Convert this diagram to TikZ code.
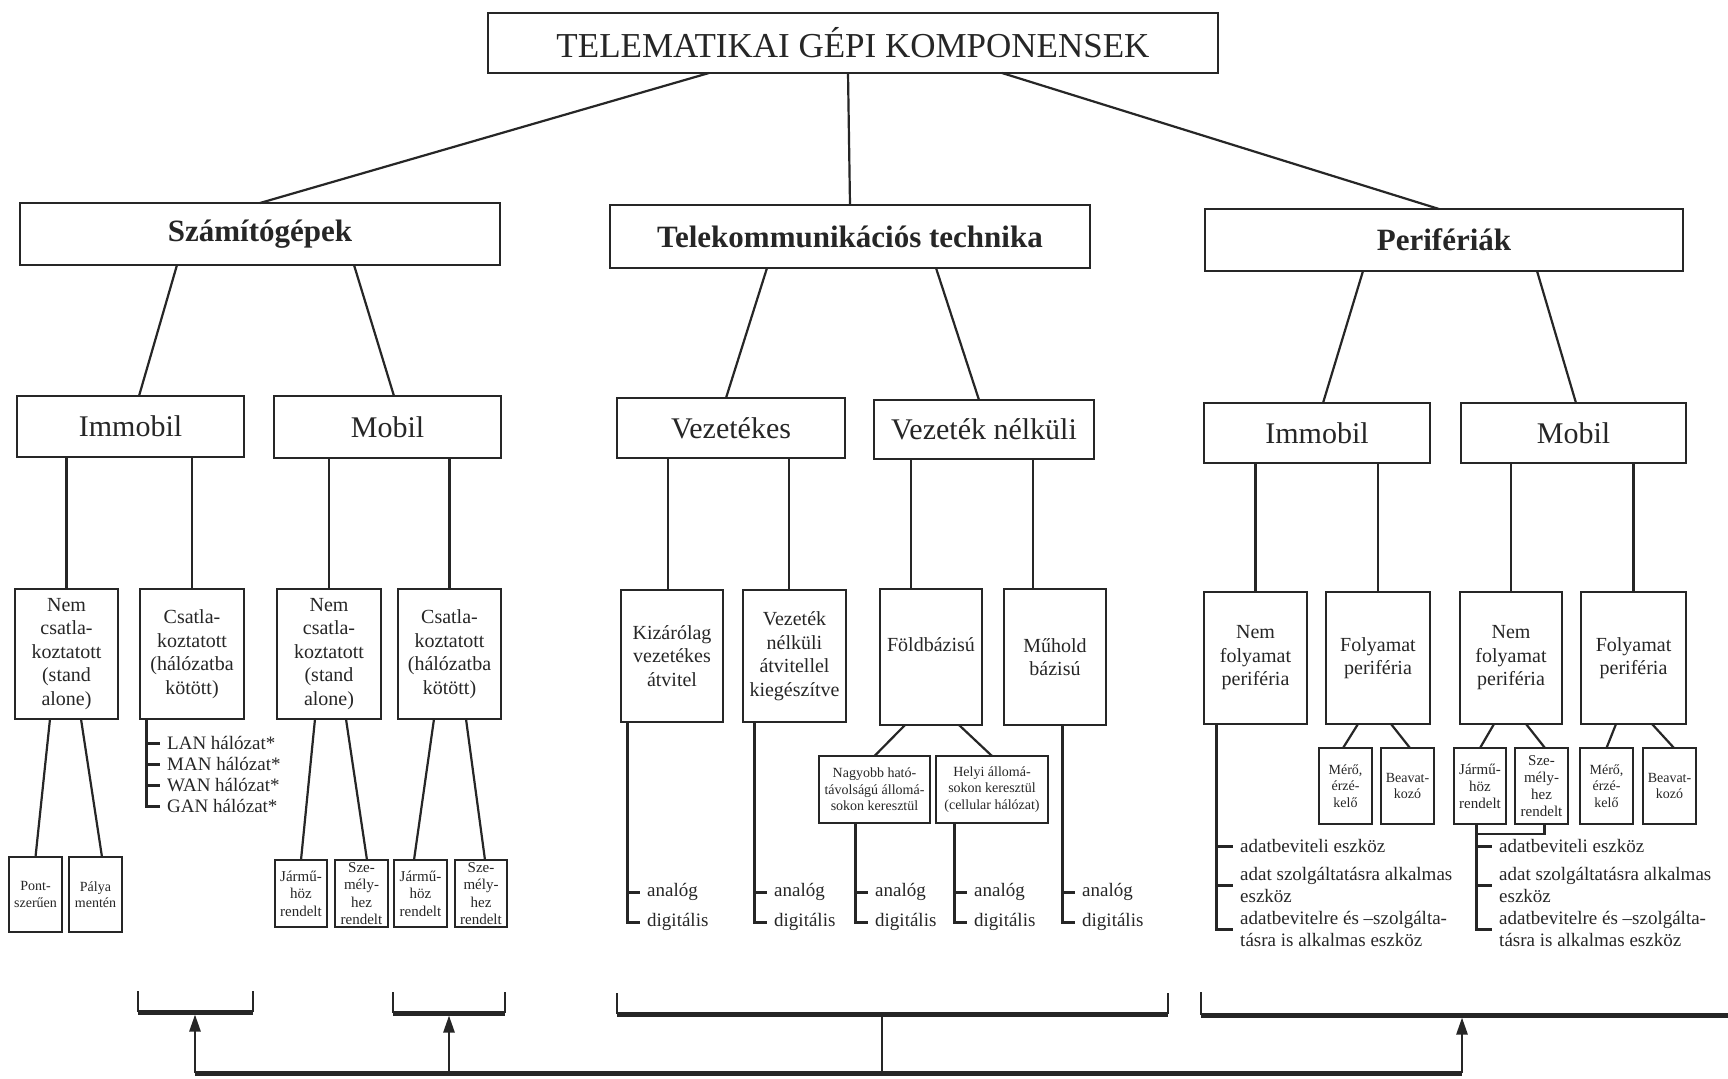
\documentclass[tikz,border=0pt]{standalone}
\usepackage{fontspec}
\setmainfont{Liberation Serif}
\usetikzlibrary{arrows.meta,positioning,calc}
\definecolor{ink}{HTML}{262626}
\tikzset{%
   box/.style={
      draw=ink,
      line width=1.8pt,
      inner sep=0pt,
      outer sep=0pt,
      align=center,
      text=ink
   },
   wh/.style 2 args={
      minimum width=#1pt,
      minimum height=#2pt
   },
   topbox/.style={
      box,
      font=\fontsize{35}{40}\selectfont
   },
   groupbox/.style={
      box,
      font=\bfseries\fontsize{31}{36}\selectfont
   },
   kindbox/.style={
      box,
      font=\fontsize{30}{34}\selectfont
   },
   leafbox/.style={
      box,
      font=\fontsize{20}{23.5}\selectfont
   },
   tinybox/.style={
      box,
      line width=1.5pt,
      font=\fontsize{14}{16.5}\selectfont
   },
   item/.style={
      anchor=west,
      inner xsep=7pt,
      inner ysep=0pt,
      align=left,
      text=ink,
      font=\fontsize{19}{21.5}\selectfont
   },
   link/.style={
      draw=ink,
      line width=2.2pt
   },
   rail/.style={
      draw=ink,
      line width=3pt
   },
   brace/.style={
      draw=ink,
      line width=2.5pt
   },
   shelf/.style={
      draw=ink,
      line width=5pt
   },
   lift/.style={
      draw=ink,
      line width=2.5pt,
      shorten >=2.5pt,
      -{Triangle[length=17pt,width=11pt]}
   },
}

\begin{document}
\begin{tikzpicture}[x=1pt, y=-1pt]
   \useasboundingbox (0,0) rectangle (1728,1078);
   \fill[white] (0,0) rectangle (1728,1078);

   \node[topbox, wh={730}{60}] (top) at (853,43) {TELEMATIKAI GÉPI KOMPONENSEK};

   \node[groupbox, wh={480}{62}] (szg) at (260,234) {Számítógépek};
   \node[groupbox, wh={480}{63}] (tel) at (850,236.5) {Telekommunikációs technika};
   \node[groupbox, wh={478}{62}] (per) at (1444,240) {Perifériák};

   \node[kindbox, wh={227}{61}] (szgimm) at (130.5,426.5) {Immobil};
   \node[kindbox, wh={227}{62}] (szgmob) at (387.5,427) {Mobil};
   \node[kindbox, wh={228}{60}] (vez) at (731,428) {Vezetékes};
   \node[kindbox, wh={220}{59}] (vnk) at (984,429.5) {Vezeték nélküli};
   \node[kindbox, wh={226}{60}] (perimm) at (1317,433) {Immobil};
   \node[kindbox, wh={225}{60}] (perimob) at (1573.5,433) {Mobil};

   \node[leafbox, wh={103}{130}] (nc1) at (66.5,654) {Nem\\csatla-\\koztatott\\(stand\\alone)};
   \node[leafbox, wh={104}{130}] (cs1) at (192,654) {Csatla-\\koztatott\\(hálózatba\\kötött)};
   \node[leafbox, wh={104}{130}] (nc2) at (329,654) {Nem\\csatla-\\koztatott\\(stand\\alone)};
   \node[leafbox, wh={103}{130}] (cs2) at (449.5,654) {Csatla-\\koztatott\\(hálózatba\\kötött)};
   \node[leafbox, wh={102}{132}] (kiz) at (672,656) {Kizárólag\\vezetékes\\átvitel};
   \node[leafbox, wh={103}{132}] (vna) at (794.5,656) {Vezeték\\nélküli\\átvitellel\\kiegészítve};
   \node[leafbox, wh={102}{136}, text depth=24pt] (fold) at (931,657) {Földbázisú};
   \node[leafbox, wh={102}{136}] (muh) at (1055,657) {Műhold\\bázisú};
   \node[leafbox, wh={103}{132}] (nf1) at (1255.5,658) {Nem\\folyamat\\periféria};
   \node[leafbox, wh={104}{132}] (fo1) at (1378,658) {Folyamat\\periféria};
   \node[leafbox, wh={102}{132}] (nf2) at (1511,658) {Nem\\folyamat\\periféria};
   \node[leafbox, wh={105}{132}] (fo2) at (1633.5,658) {Folyamat\\periféria};

   \node[tinybox, wh={53}{75}] (pont) at (35.5,894.5) {Pont-\\szerűen};
   \node[tinybox, wh={53}{75}] (palya) at (95.5,894.5) {Pálya\\mentén};
   \node[tinybox, wh={52}{67}, font=\fontsize{15}{17.5}\selectfont] (jar1) at (301,893.5) {Jármű-\\höz\\rendelt};
   \node[tinybox, wh={53}{67}, font=\fontsize{15}{17.5}\selectfont] (sze1) at (361.5,893.5) {Sze-\\mély-\\hez\\rendelt};
   \node[tinybox, wh={53}{67}, font=\fontsize{15}{17.5}\selectfont] (jar2) at (420.5,893.5) {Jármű-\\höz\\rendelt};
   \node[tinybox, wh={52}{67}, font=\fontsize{15}{17.5}\selectfont] (sze2) at (481,893.5) {Sze-\\mély-\\hez\\rendelt};
   \node[tinybox, wh={111}{67}] (nagy) at (874.5,789.5) {Nagyobb ható-\\távolságú állomá-\\sokon keresztül};
   \node[tinybox, wh={112}{67}] (helyi) at (992,789.5) {Helyi állomá-\\sokon keresztül\\(cellular hálózat)};
   \node[tinybox, wh={53}{76}] (mero1) at (1345.5,786) {Mérő,\\érzé-\\kelő};
   \node[tinybox, wh={53}{76}] (beav1) at (1407.5,786) {Beavat-\\kozó};
   \node[tinybox, wh={52}{76}, font=\fontsize{15}{17}\selectfont] (jar3) at (1480,786) {Jármű-\\höz\\rendelt};
   \node[tinybox, wh={53}{76}, font=\fontsize{15}{17}\selectfont] (sze3) at (1541.5,786) {Sze-\\mély-\\hez\\rendelt};
   \node[tinybox, wh={53}{76}] (mero2) at (1606.5,786) {Mérő,\\érzé-\\kelő};
   \node[tinybox, wh={53}{76}] (beav2) at (1669.5,786) {Beavat-\\kozó};

   \path[link] ([xshift=-144pt]top.south) edge (szg.north)
               ([xshift=-5pt]top.south) edge (tel.north)
               ([xshift=149pt]top.south) edge ([xshift=-5pt]per.north);

   \path[link] ([xshift=-83pt]szg.south) edge ([xshift=8.5pt]szgimm.north)
               ([xshift=94pt]szg.south) edge ([xshift=6.5pt]szgmob.north)
               ([xshift=-83pt]tel.south) edge ([xshift=-5pt]vez.north)
               ([xshift=86pt]tel.south) edge ([xshift=-5pt]vnk.north)
               ([xshift=-81pt]per.south) edge ([xshift=6pt]perimm.north)
               ([xshift=93pt]per.south) edge ([xshift=2.5pt]perimob.north);

   \coordinate (kizt) at ([xshift=-4pt]kiz.north);
   \coordinate (vnat) at ([xshift=-5.5pt]vna.north);
   \coordinate (foldt) at ([xshift=-20pt]fold.north);
   \coordinate (muht) at ([xshift=-22pt]muh.north);
   \path[link] (nc1.north |- szgimm.south) edge (nc1.north)
               (cs1.north |- szgimm.south) edge (cs1.north)
               (nc2.north |- szgmob.south) edge (nc2.north)
               (cs2.north |- szgmob.south) edge (cs2.north)
               (kizt |- vez.south) edge (kizt)
               (vnat |- vez.south) edge (vnat)
               (foldt |- vnk.south) edge (foldt)
               (muht |- vnk.south) edge (muht)
               (nf1.north |- perimm.south) edge (nf1.north)
               (fo1.north |- perimm.south) edge (fo1.north)
               (nf2.north |- perimob.south) edge (nf2.north)
               (fo2.north |- perimob.south) edge (fo2.north);

   \path[link] ([xshift=-16.5pt]nc1.south) edge (pont.north)
               ([xshift=14.5pt]nc1.south) edge ([xshift=6.5pt]palya.north)
               ([xshift=-14pt]nc2.south) edge (jar1.north)
               ([xshift=17pt]nc2.south) edge ([xshift=5.5pt]sze1.north)
               ([xshift=-15.5pt]cs2.south) edge ([xshift=-6.5pt]jar2.north)
               ([xshift=16.5pt]cs2.south) edge ([xshift=4pt]sze2.north)
               ([xshift=-26pt]fold.south) edge (nagy.north)
               ([xshift=28pt]fold.south) edge (helyi.north)
               ([xshift=-20pt]fo1.south) edge ([xshift=-2.5pt]mero1.north)
               ([xshift=13pt]fo1.south) edge ([xshift=2.5pt]beav1.north)
               ([xshift=-17pt]nf2.south) edge (jar3.north)
               ([xshift=15pt]nf2.south) edge ([xshift=3.5pt]sze3.north)
               ([xshift=-17.5pt]fo2.south) edge (mero2.north)
               ([xshift=18.5pt]fo2.south) edge ([xshift=4.5pt]beav2.north);

   \coordinate (cs1l) at ([xshift=6pt]cs1.south west);
   \node[item] (lan) at (160,743) {LAN hálózat*};
   \node[item] (man) at (160,764) {MAN hálózat*};
   \node[item] (wan) at (160,785) {WAN hálózat*};
   \node[item] (gan) at (160,806) {GAN hálózat*};
   \draw[rail] (cs1l) |- (gan.west);
   \foreach \k in {lan,man,wan}
      \draw[rail] (\k.west -| cs1l) -- (\k.west);

   \coordinate (kizl) at ([xshift=6pt]kiz.south west);
   \coordinate (vnal) at ([xshift=11pt]vna.south west);
   \coordinate (nagyl) at ([xshift=36pt]nagy.south west);
   \coordinate (helyil) at ([xshift=18pt]helyi.south west);
   \coordinate (muhl) at ([xshift=7pt]muh.south);
   \node[item] (kiza) at (640,892) {analóg};
   \node[item] (kizd) at (640,922) {digitális};
   \node[item] (vnaa) at (767,892) {analóg};
   \node[item] (vnad) at (767,922) {digitális};
   \node[item] (nagya) at (868,892) {analóg};
   \node[item] (nagyd) at (868,922) {digitális};
   \node[item] (helyia) at (967,892) {analóg};
   \node[item] (helyid) at (967,922) {digitális};
   \node[item] (muha) at (1075,892) {analóg};
   \node[item] (muhd) at (1075,922) {digitális};
   \foreach \k in {kiz,vna,nagy,helyi,muh}{
      \draw[rail] (\k l) |- (\k d.west);
      \draw[rail] (\k a.west -| \k l) -- (\k a.west);
   }

   \coordinate (nf1l) at ([xshift=12pt]nf1.south west);
   \node[item] (nf1a) at (1233,846) {adatbeviteli eszköz};
   \node[item] (nf1b) at (1233,885) {adat szolgáltatásra alkalmas\\eszköz};
   \node[item] (nf1c) at (1233,929) {adatbevitelre és –szolgálta-\\tásra is alkalmas eszköz};
   \coordinate (nf2l) at ([xshift=-4pt]jar3.south);
   \node[item] (nf2a) at (1492,846) {adatbeviteli eszköz};
   \node[item] (nf2b) at (1492,885) {adat szolgáltatásra alkalmas\\eszköz};
   \node[item] (nf2c) at (1492,929) {adatbevitelre és –szolgálta-\\tásra is alkalmas eszköz};
   \draw[link] ([xshift=3pt]sze3.south) -- ++(0,10) -| (nf2l);
   \foreach \k in {nf1,nf2}{
      \draw[rail] (\k l) |- (\k c.west);
      \draw[rail] (\k a.west -| \k l) -- (\k a.west);
      \draw[rail] (\k b.west -| \k l) -- (\k b.west);
   }

   \foreach \xa/\xb/\ya/\yb in {138/253/991/1012, 393/505/992/1013, 617/1168/993/1014}{
      \draw[brace] (\xa,\ya) -- (\xa,\yb) (\xb,\ya) -- (\xb,\yb);
      \draw[shelf] (\xa,\yb) -- (\xb,\yb);
   }
   \draw[brace] (1201,992) -- (1201,1015);
   \draw[shelf] (1201,1015) -- (1728,1015);

   \coordinate (s1) at (195,1012);
   \coordinate (s2) at (449,1013);
   \coordinate (s3) at (882,1014);
   \coordinate (s4) at (1462,1015);
   \coordinate (bus1) at (195,1073);
   \coordinate (bus2) at (449,1073);
   \coordinate (hub) at (882,1073);
   \coordinate (bus3) at (1462,1073);
   \draw[shelf] (bus1) -- (bus3);
   \draw[lift] (bus1) -- (s1);
   \draw[lift] (bus2) -- (s2);
   \draw[link] (hub) -- (s3);
   \draw[lift] (bus3) -- (s4);
\end{tikzpicture}
\end{document}
